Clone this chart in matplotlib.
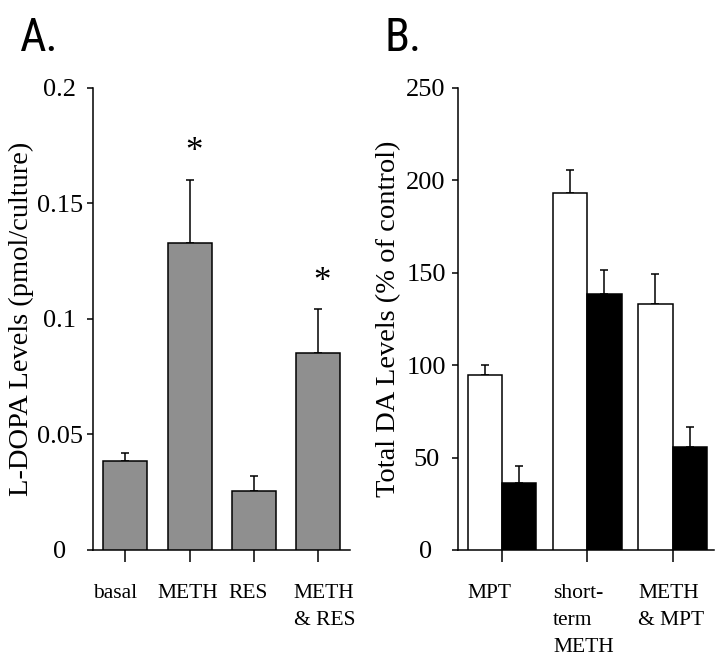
import matplotlib
matplotlib.use("Agg")
import matplotlib.pyplot as plt
import matplotlib.transforms as mtransforms
from matplotlib import font_manager
import numpy as np

plt.rcParams['font.family'] = ['Liberation Serif', 'DejaVu Serif']

# ---------------- data ----------------
a_categories = ["basal", "METH", "RES", "METH\n& RES"]
a_means = [0.0386, 0.1328, 0.0256, 0.0854]
a_sem = [0.0035, 0.0274, 0.0065, 0.0188]
a_signif = [False, True, False, True]
a_yticks = [0, 0.05, 0.1, 0.15, 0.2]
a_yticklabels = ["0", "0.05", "0.1", "0.15", "0.2"]

b_categories = ["MPT", "short-\nterm\nMETH", "METH\n& MPT"]
b_white_means = [94.4, 193.3, 133.3]
b_white_sem = [5.6, 12.1, 15.7]
b_black_means = [36.0, 138.4, 55.8]
b_black_sem = [9.6, 13.0, 10.7]
b_yticks = [0, 50, 100, 150, 200, 250]
b_yticklabels = ["0", "50", "100", "150", "200", "250"]

# ---------------- style ----------------
W, H = 720, 656
fig = plt.figure(figsize=(W / 100, H / 100), dpi=100)
LW = 1.1
TICK_FS = 19
LABEL_FS = 20.5
XLAB_FS = 15.5
XLAB_SPACING = 1.55

axA = fig.add_axes([93.3 / W, 1 - 550 / H, (350 - 93.3) / W, 462.3 / H])
axB = fig.add_axes([457.7 / W, 1 - 550 / H, (714 - 457.7) / W, 462.3 / H])


def style_axes(ax):
    for s in ("top", "right"):
        ax.spines[s].set_visible(False)
    for s in ("left", "bottom"):
        ax.spines[s].set_linewidth(LW)
    ax.tick_params(axis='x', direction='out', length=8.4, width=LW, labelbottom=False)
    ax.tick_params(axis='y', direction='out', length=4.3, width=LW, labelsize=TICK_FS)


# ---------------- panel A ----------------
xa = np.arange(len(a_categories))
bw_a = 0.684
axA.bar(xa, a_means, width=bw_a, color='#8f8f8f', edgecolor='black', linewidth=LW, zorder=3)
axA.errorbar(xa, a_means, yerr=[np.zeros(len(a_sem)), a_sem], fmt='none', ecolor='black',
             elinewidth=LW, capsize=2.6, capthick=LW, zorder=2)
for xi, m, s, sig in zip(xa, a_means, a_sem, a_signif):
    if sig:
        axA.annotate('*', xy=(xi, m + s), xytext=(3, 19.5), textcoords='offset points',
                     ha='center', va='center', fontsize=25)
axA.set_xlim(-0.5, 3.5)
axA.set_ylim(0, 0.2)
axA.set_xticks(xa)
axA.set_yticks(a_yticks)
axA.set_yticklabels(a_yticklabels)
style_axes(axA)
axA.tick_params(axis='y', pad=19.7)
for lab in axA.get_yticklabels():
    lab.set_horizontalalignment('center')
axA.set_ylabel("L-DOPA Levels (pmol/culture)", fontsize=LABEL_FS, va='center')
axA.yaxis.set_label_coords(-0.28, 0.5)

a_nudge = [-0.165, -0.027, -0.09, 0.1]
transA = mtransforms.blended_transform_factory(axA.transData, axA.transAxes)
for xi, lab, nd in zip(xa, a_categories, a_nudge):
    axA.text(xi + nd, -0.0746, lab, transform=transA, ha='center', va='top',
             multialignment='left', fontsize=XLAB_FS, linespacing=XLAB_SPACING)

# ---------------- panel B ----------------
xb = np.arange(len(b_categories))
bw_b = 0.402
axB.bar(xb - bw_b / 2, b_white_means, width=bw_b, color='white', edgecolor='black',
        linewidth=LW, zorder=3)
axB.bar(xb + bw_b / 2, b_black_means, width=bw_b, color='black', edgecolor='black',
        linewidth=LW, zorder=3)
axB.errorbar(xb - bw_b / 2, b_white_means, yerr=[np.zeros(3), b_white_sem], fmt='none',
             ecolor='black', elinewidth=LW, capsize=2.6, capthick=LW, zorder=2)
axB.errorbar(xb + bw_b / 2, b_black_means, yerr=[np.zeros(3), b_black_sem], fmt='none',
             ecolor='black', elinewidth=LW, capsize=2.6, capthick=LW, zorder=2)
axB.set_xlim(-0.519, 2.485)
axB.set_ylim(0, 250)
axB.set_xticks(xb)
axB.set_yticks(b_yticks)
axB.set_yticklabels(b_yticklabels)
style_axes(axB)
axB.tick_params(axis='y', pad=18.5)
for lab in axB.get_yticklabels():
    lab.set_horizontalalignment('center')
axB.set_ylabel("Total DA Levels (% of control)", fontsize=LABEL_FS, va='center')
axB.yaxis.set_label_coords(-0.268, 0.5)

transB = mtransforms.blended_transform_factory(axB.transData, axB.transAxes)
for xi, lab in zip(xb, b_categories):
    axB.text(xi - bw_b, -0.0746, lab, transform=transB, ha='left', va='top',
             multialignment='left', fontsize=XLAB_FS, linespacing=XLAB_SPACING)

# ---------------- panel letters ----------------
# narrow sans letters: try condensed fonts, fall back to DejaVu Sans
names = {f.name for f in font_manager.fontManager.ttflist}
cands = [n for n in ('Liberation Sans Narrow', 'DejaVu Sans Condensed', 'Roboto Condensed',
                     'Open Sans Condensed') if n in names]
letter_font = cands + ['DejaVu Sans']
stretch = 'condensed'
fig.text(20 / W, 1 - 51 / H, "A.", family=letter_font, fontsize=33, va='baseline',
         ha='left', fontstretch=stretch)
fig.text(385 / W, 1 - 51 / H, "B.", family=letter_font, fontsize=33, va='baseline',
         ha='left', fontstretch=stretch)

fig.savefig("out.png", dpi=100)
